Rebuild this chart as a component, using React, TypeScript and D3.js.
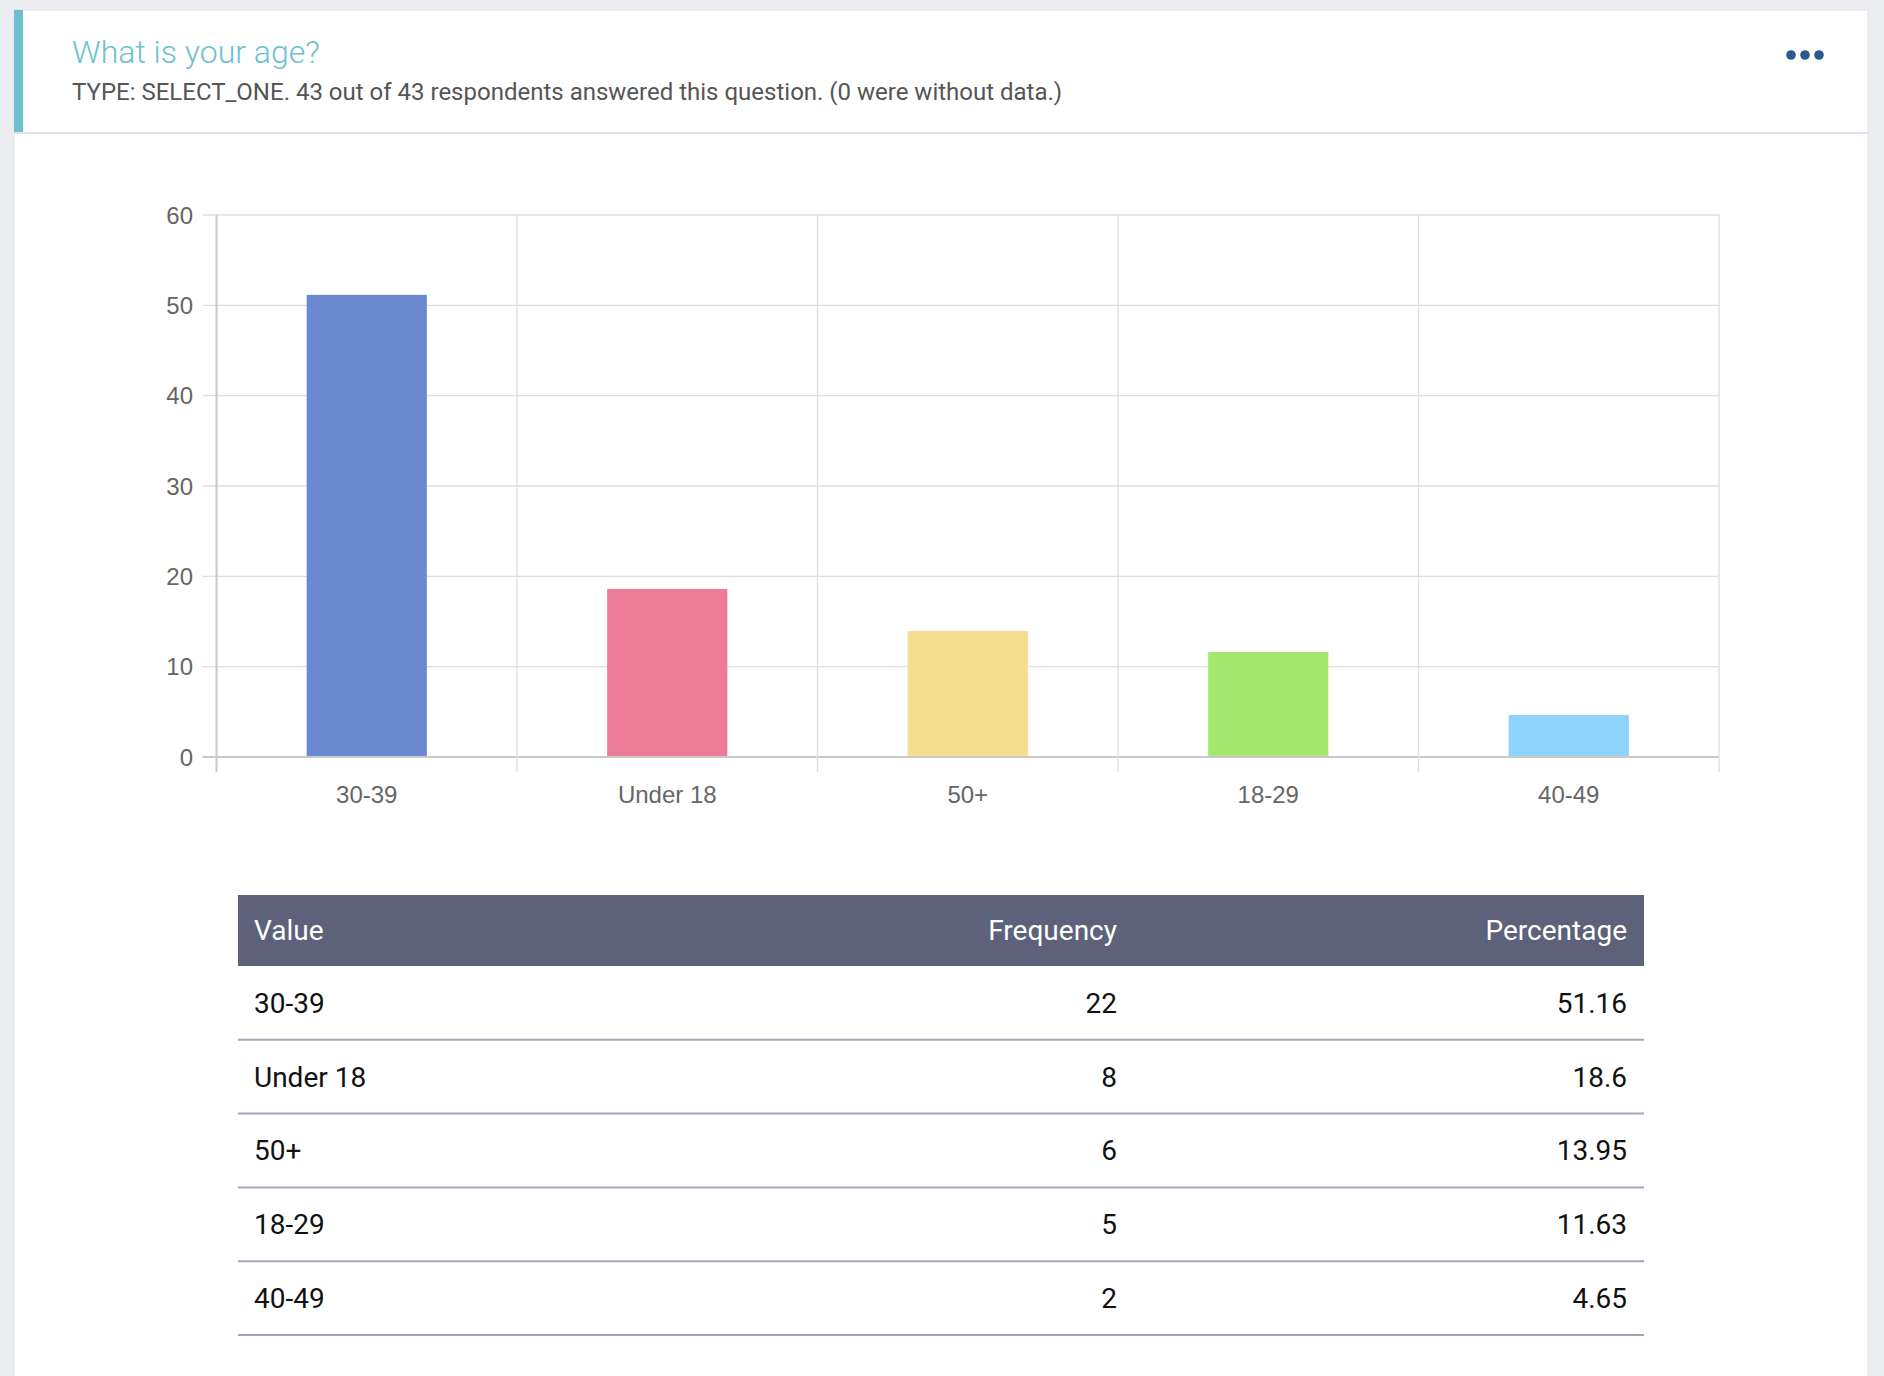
import React, { useEffect, useRef } from 'react';
import * as d3 from 'd3';

const categories = ["30-39", "Under 18", "50+", "18-29", "40-49"];
const frequencies = [22, 8, 6, 5, 2];
const percentages = [51.16, 18.6, 13.95, 11.63, 4.65];
const barColors = ["#6a89d0", "#ed7a97", "#f4de8e", "#a5e870", "#8dd3fa"];
const yTicks = [0, 10, 20, 30, 40, 50, 60];
const tableHeaders = ["Value", "Frequency", "Percentage"];

const title = "What is your age?";
const subtitle = "TYPE: SELECT_ONE. 43 out of 43 respondents answered this question. (0 were without data.)";

const App: React.FC = () => {
  const svgRef = useRef<SVGSVGElement | null>(null);

  useEffect(() => {
    const width = 1884;
    const height = 1376;

    const svg = d3.select(svgRef.current);
    svg.selectAll("*").remove();
    svg.attr("width", width).attr("height", height);

    // page + card
    svg.append("rect").attr("width", width).attr("height", height).attr("fill", "#ebedf1");
    svg.append("rect")
      .attr("x", 14).attr("y", 10).attr("width", 1854).attr("height", height)
      .attr("fill", "#fff").attr("stroke", "#dfe1e6").attr("stroke-width", 1);
    svg.append("rect").attr("x", 14).attr("y", 10).attr("width", 9).attr("height", 123).attr("fill", "#6dc1cf");
    svg.append("line")
      .attr("x1", 14).attr("x2", 1868).attr("y1", 133).attr("y2", 133)
      .attr("stroke", "#e0e2e7").attr("stroke-width", 2);

    svg.append("text")
      .attr("x", 72).attr("y", 63)
      .attr("font-family", "Roboto").attr("font-size", 32).attr("font-weight", 300)
      .attr("fill", "#6dc1cf")
      .text(title);
    svg.append("text")
      .attr("x", 72).attr("y", 100)
      .attr("font-family", "Roboto").attr("font-size", 24)
      .attr("fill", "#555")
      .text(subtitle);

    svg.append("g").selectAll("circle")
      .data([0, 1, 2])
      .join("circle")
      .attr("cx", d => 1791 + d * 14).attr("cy", 55).attr("r", 4.8)
      .attr("fill", "#2d5a8e");

    // chart
    const marginLeft = 216.5;
    const marginRight = 1719;
    const top = 215;
    const bottom = 757;

    const x = d3.scaleBand().domain(categories).range([marginLeft, marginRight]).paddingInner(0).paddingOuter(0);
    const y = d3.scaleLinear().domain([0, 60]).range([bottom, top]);

    const grid = svg.append("g");
    grid.selectAll("line.h")
      .data(yTicks)
      .join("line")
      .attr("class", "h")
      .attr("x1", marginLeft - 14).attr("x2", marginRight)
      .attr("y1", d => y(d)).attr("y2", d => y(d))
      .attr("stroke", d => d === 0 ? "#c8c8c8" : "#dedede")
      .attr("stroke-width", d => d === 0 ? 2 : 1.3);

    const bounds = categories.map(c => x(c)!).concat([marginRight]);
    grid.selectAll("line.v")
      .data(bounds)
      .join("line")
      .attr("class", "v")
      .attr("x1", d => d).attr("x2", d => d)
      .attr("y1", top).attr("y2", bottom + 15)
      .attr("stroke", (d, i) => i === 0 ? "#c8c8c8" : "#dedede")
      .attr("stroke-width", (d, i) => i === 0 ? 2 : 1.3);

    svg.append("g").selectAll("text")
      .data(yTicks)
      .join("text")
      .attr("x", 193).attr("y", d => y(d))
      .attr("dy", "0.36em")
      .attr("text-anchor", "end")
      .attr("font-family", "Liberation Sans, Arial").attr("font-size", 24)
      .attr("fill", "#666")
      .text(d => d);

    const barWidth = x.bandwidth() * 0.4;
    svg.append("g").selectAll("rect")
      .data(categories)
      .join("rect")
      .attr("x", d => x(d)! + (x.bandwidth() - barWidth) / 2)
      .attr("width", barWidth)
      .attr("y", (d, i) => y(percentages[i]))
      .attr("height", (d, i) => y(0) - y(percentages[i]) - 1)
      .attr("fill", (d, i) => barColors[i]);

    svg.append("g").selectAll("text")
      .data(categories)
      .join("text")
      .attr("x", d => x(d)! + x.bandwidth() / 2)
      .attr("y", 803)
      .attr("text-anchor", "middle")
      .attr("font-family", "Liberation Sans, Arial").attr("font-size", 24)
      .attr("fill", "#666")
      .text(d => d);

    // table
    const tLeft = 238;
    const tRight = 1644;
    const headTop = 895;
    const headBottom = 966;
    const rowH = 73.8;
    const cols = [tLeft + 16, 1117, 1627];
    const anchors = ["start", "end", "end"];

    svg.append("rect")
      .attr("x", tLeft).attr("y", headTop)
      .attr("width", tRight - tLeft).attr("height", headBottom - headTop)
      .attr("fill", "#5d6179");
    svg.append("g").selectAll("text")
      .data(tableHeaders)
      .join("text")
      .attr("x", (d, i) => cols[i]).attr("y", 940)
      .attr("text-anchor", (d, i) => anchors[i])
      .attr("font-family", "Roboto").attr("font-size", 28)
      .attr("fill", "#fff")
      .text(d => d);

    const rows = svg.append("g").selectAll("g")
      .data(categories)
      .join("g")
      .attr("transform", (d, i) => `translate(0,${headBottom + i * rowH})`);

    rows.append("line")
      .attr("x1", tLeft).attr("x2", tRight)
      .attr("y1", rowH).attr("y2", rowH)
      .attr("stroke", "#a3a6b9").attr("stroke-width", 2);

    rows.each(function (d, i) {
      const cells = [d, String(frequencies[i]), String(percentages[i])];
      d3.select(this).selectAll("text")
        .data(cells)
        .join("text")
        .attr("x", (c, j) => cols[j]).attr("y", rowH / 2 + 10)
        .attr("text-anchor", (c, j) => anchors[j])
        .attr("font-family", "Roboto").attr("font-size", 28)
        .attr("fill", "#111")
        .text(c => c);
    });
  }, []);

  return (
    <div style={{ position: "absolute", left: 0, top: 0 }}>
      <svg ref={svgRef} style={{ display: "block" }}></svg>
    </div>
  );
};

export default App;
